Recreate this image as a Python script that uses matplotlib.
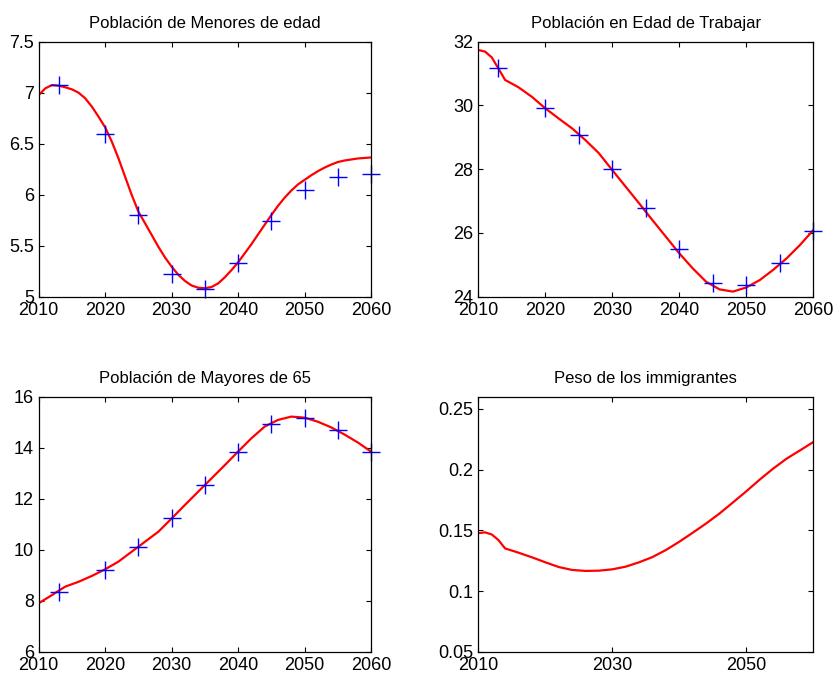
import numpy as np
import matplotlib
matplotlib.use('Agg')
import matplotlib.pyplot as plt

plt.rcParams['font.family'] = ['Liberation Sans', 'DejaVu Sans']

# marker years (observed / projected points)
pts_years = [2013, 2020, 2025, 2030, 2035, 2040, 2045, 2050, 2055, 2060]
menores_pts = [7.075, 6.60, 5.80, 5.22, 5.08, 5.33, 5.74, 6.05, 6.17, 6.20]
trabajar_pts = [31.16, 29.91, 29.07, 28.0, 26.79, 25.49, 24.44, 24.37, 25.07, 26.07]
mayores_pts = [8.34, 9.21, 10.1, 11.26, 12.54, 13.83, 14.93, 15.15, 14.69, 13.85]

# fitted curves
menores_years = list(range(2010, 2057)) + [2058, 2060]
menores_curve = [6.977, 7.043, 7.075, 7.069, 7.053, 7.033, 7.0, 6.945, 6.863, 6.765,
                 6.66, 6.52, 6.357, 6.176, 5.997, 5.834, 5.72, 5.605, 5.49, 5.385,
                 5.295, 5.215, 5.155, 5.11, 5.088, 5.083, 5.095, 5.13, 5.19, 5.26,
                 5.337, 5.425, 5.514, 5.61, 5.705, 5.80, 5.89, 5.97, 6.04, 6.10,
                 6.145, 6.19, 6.23, 6.265, 6.295, 6.32, 6.335, 6.355, 6.365]

curve_years = [2010, 2011, 2012, 2013, 2014, 2016, 2018, 2020, 2022, 2024, 2026, 2028,
               2030, 2032, 2034, 2036, 2038, 2040, 2042, 2044, 2046, 2048, 2050,
               2052, 2054, 2056, 2058, 2060]
trabajar_curve = [31.74, 31.69, 31.51, 31.16, 30.80, 30.57, 30.27, 29.91, 29.59, 29.28, 28.91, 28.50,
                  27.97, 27.45, 26.93, 26.40, 25.88, 25.36, 24.89, 24.47, 24.23, 24.16, 24.29,
                  24.52, 24.84, 25.20, 25.62, 26.09]
mayores_curve = [7.91, 8.07, 8.23, 8.40, 8.56, 8.75, 8.98, 9.24, 9.54, 9.93, 10.32, 10.71,
                 11.23, 11.76, 12.28, 12.80, 13.32, 13.85, 14.37, 14.83, 15.09, 15.22, 15.18,
                 15.02, 14.80, 14.52, 14.21, 13.85]
inmig_curve = [0.1478, 0.1484, 0.1467, 0.1421, 0.1352, 0.1317, 0.1279, 0.1238, 0.1199, 0.1175, 0.1167, 0.1169,
               0.1180, 0.1202, 0.1238, 0.1281, 0.1339, 0.1407, 0.1481, 0.1557, 0.1639, 0.1730, 0.1822,
               0.1918, 0.2008, 0.2090, 0.2158, 0.2227]

titles = ['Población de Menores de edad', 'Población en Edad de Trabajar',
          'Población de Mayores de 65', 'Peso de los immigrantes']

fig = plt.figure(figsize=(8.36, 6.77), dpi=100)
W, H = 836., 677.
boxes = [(38.7, 41.7, 371, 296.7), (478.3, 41.7, 813.3, 296.7),
         (38.7, 396.7, 371, 652), (478.3, 396.7, 813.3, 652)]
axes = []
for (x0, y0, x1, y1) in boxes:
    axes.append(fig.add_axes([x0 / W, 1 - y1 / H, (x1 - x0) / W, (y1 - y0) / H]))

xs = [menores_years, curve_years, curve_years, curve_years]
curves = [menores_curve, trabajar_curve, mayores_curve, inmig_curve]
points = [menores_pts, trabajar_pts, mayores_pts, None]
ylims = [(5, 7.5), (24, 32), (6, 16), (0.05, 0.26)]
yticks = [[5, 5.5, 6, 6.5, 7, 7.5], [24, 26, 28, 30, 32], [6, 8, 10, 12, 14, 16],
          [0.05, 0.1, 0.15, 0.2, 0.25]]
xticks = [[2010, 2020, 2030, 2040, 2050, 2060]] * 3 + [[2010, 2030, 2050]]

for i, ax in enumerate(axes):
    ax.plot(xs[i], curves[i], color='red', lw=1.6)
    if points[i] is not None:
        ax.plot(pts_years, points[i], '+', color='blue', ms=13, mew=1.0, clip_on=False)
    ax.set_xlim(2010, 2060)
    ax.set_ylim(*ylims[i])
    ax.set_xticks(xticks[i])
    ax.set_yticks(yticks[i])
    ax.set_yticklabels([('%g' % v) for v in yticks[i]])
    ax.tick_params(direction='in', top=True, right=True, length=3.5, width=0.8,
                   labelsize=13, pad=3.5)
    for s in ax.spines.values():
        s.set_linewidth(0.9)
    ax.set_title(titles[i], fontsize=12, pad=10)

fig.savefig('out.png', dpi=100)
